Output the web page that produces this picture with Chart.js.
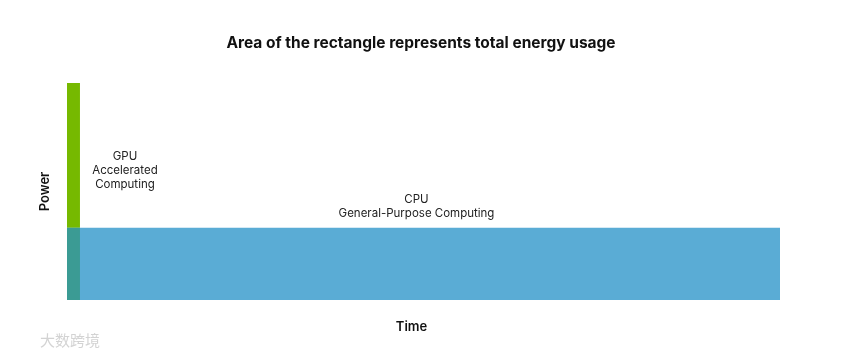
<!DOCTYPE html>
<html>
<head>
<meta charset="utf-8">
<script src="https://cdn.jsdelivr.net/npm/chart.js@4/dist/chart.umd.min.js"></script>
<style>
  html, body { margin: 0; padding: 0; background: #ffffff; }
  #wrap { width: 842px; height: 356px; position: relative; }
</style>
</head>
<body>
<div id="wrap"><canvas id="c" width="842" height="356"></canvas></div>
<script>
// ---- data ----
const categories = ['GPU', 'CPU'];
const categoryLines = [['GPU', 'Accelerated', 'Computing'], ['CPU', 'General-Purpose Computing']];
const power = [3, 1];      // relative power draw
const time = [1, 55];      // relative run time
const titleText = 'Area of the rectangle represents total energy usage';
const xTitle = 'Time';
const yTitle = 'Power';
const watermark = '大数跨境';

const GREEN = '#76b900';
const BLUE = '#5aacd5';
const TEAL = '#3b9b94';
const FONT = 'Inter, "Open Sans", "DejaVu Sans", sans-serif';

// Chart.js paints dataset 0 on top, so the overlap comes first.
const datasets = [
  { label: 'overlap', data: [{x: 0, y: Math.min(power[0], power[1])}, {x: Math.min(time[0], time[1]), y: Math.min(power[0], power[1])}], fill: 'origin', backgroundColor: TEAL },
  { label: 'GPU', data: [{x: 0, y: power[0]}, {x: time[0], y: power[0]}], fill: {value: power[1]}, backgroundColor: GREEN },
  { label: 'CPU', data: [{x: 0, y: power[1]}, {x: time[1], y: power[1]}], fill: 'origin', backgroundColor: BLUE }
].map(d => Object.assign(d, { borderWidth: 0, pointRadius: 0, borderColor: 'rgba(0,0,0,0)', tension: 0 }));

const textPlugin = {
  id: 'texts',
  afterDraw(chart) {
    const ctx = chart.ctx, a = chart.chartArea;
    const xs = chart.scales.x, ys = chart.scales.y;
    ctx.save();
    ctx.fillStyle = '#111';
    ctx.textAlign = 'center';
    ctx.textBaseline = 'middle';
    // title
    ctx.font = 'bold 15.5px ' + FONT;
    ctx.fillText(titleText, 421, 43);
    // axis titles
    ctx.font = '600 13px ' + FONT;
    ctx.fillText(xTitle, (a.left + a.right) / 2 - 12, 327);
    ctx.save();
    ctx.translate(45, (a.top + a.bottom) / 2);
    ctx.rotate(-Math.PI / 2);
    ctx.fillText(yTitle, 0, 0);
    ctx.restore();
    // labels
    ctx.font = '11.5px ' + FONT;
    ctx.fillStyle = '#222';
    const gx = xs.getPixelForValue(time[0]) + 45;
    const gy = (ys.getPixelForValue(power[0]) + ys.getPixelForValue(power[1])) / 2 + 15;
    categoryLines[0].forEach((t, i) => ctx.fillText(t, gx, gy + (i - 1) * 14));
    const cx = xs.getPixelForValue(time[1] / 2) - 7;
    const cy = ys.getPixelForValue(power[1]) - 28;
    categoryLines[1].forEach((t, i) => ctx.fillText(t, cx, cy + i * 14));
    // watermark
    ctx.font = '15px "Noto Sans CJK SC", sans-serif';
    ctx.fillStyle = 'rgba(200,200,200,0.8)';
    ctx.textAlign = 'left';
    ctx.fillText(watermark, 40, 340);
    ctx.restore();
  }
};

new Chart(document.getElementById('c'), {
  type: 'line',
  data: { datasets },
  options: {
    responsive: false,
    animation: false,
    layout: { padding: { left: 67, right: 62, top: 83, bottom: 56 } },
    plugins: { legend: { display: false }, tooltip: { enabled: false }, title: { display: false } },
    scales: {
      x: { type: 'linear', min: 0, max: time[1], display: false },
      y: { type: 'linear', min: 0, max: power[0], display: false }
    },
    elements: { line: { borderWidth: 0 } }
  },
  plugins: [textPlugin]
});
</script>
</body>
</html>
